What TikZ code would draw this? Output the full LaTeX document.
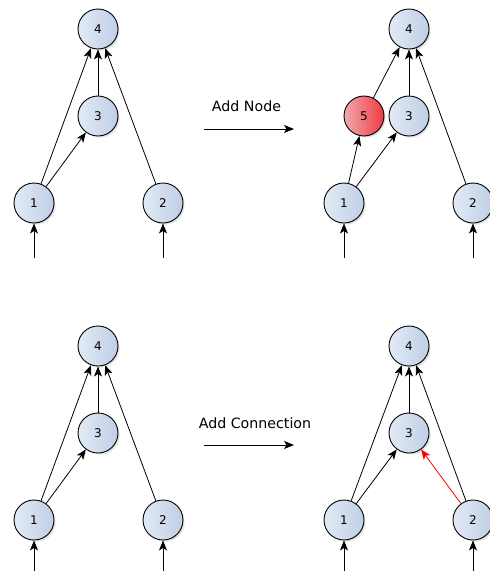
\documentclass[tikz,border=0pt]{standalone}
\usepackage{fontspec}
\setmainfont{DejaVu Sans}
\usetikzlibrary{arrows.meta,shadows}
\definecolor{nodeA}{HTML}{E2EAF5}
\definecolor{nodeB}{HTML}{BFCFE6}
\definecolor{redA}{HTML}{F2A9B0}
\definecolor{redB}{HTML}{F03A40}
\tikzset{
  neuron/.style={circle, draw=black, line width=0.9pt, minimum size=40pt, inner sep=0pt,
    left color=nodeA, right color=nodeB, font=\fontsize{12}{12}\selectfont,
    circular drop shadow={shadow xshift=2pt, shadow yshift=-2pt, opacity=0.35, shadow scale=1.0}},
  newneuron/.style={neuron, left color=redA, right color=redB},
  conn/.style={line width=0.8pt, -{Stealth[length=10pt, width=8pt, inset=2.5pt]}},
  newconn/.style={conn, draw=red},
  opconn/.style={line width=0.8pt, -{Stealth[length=10pt, width=8pt, inset=2.5pt]}},
  optext/.style={font=\fontsize{14.2}{14.2}\selectfont}
}
\begin{document}
\begin{tikzpicture}[x=1pt, y=-1pt]
\useasboundingbox (0,0) rectangle (490,571);
% ---------- Panel A (top-left) ----------
\node[neuron] (a4) at (98,29) {4};
\node[neuron] (a3) at (98,116) {3};
\node[neuron] (a1) at (34,203) {1};
\node[neuron] (a2) at (163,203) {2};
\coordinate (ai1) at (34,258);
\coordinate (ai2) at (163,258);
\draw[conn] (a1) -- (a4);
\draw[conn] (a1) -- (a3);
\draw[conn] (a3) -- (a4);
\draw[conn] (a2) -- (a4);
\draw[conn] (ai1) -- (a1);
\draw[conn] (ai2) -- (a2);
% ---------- Operation: Add Node ----------
\node[optext] (addnode) at (246.5,106.5) {Add Node};
\coordinate (na) at (204,129);
\coordinate (nb) at (294,129);
\draw[opconn] (na) -- (nb);
% ---------- Panel B (top-right) ----------
\node[neuron] (b4) at (409,29) {4};
\node[newneuron] (b5) at (364,116) {5};
\node[neuron] (b3) at (409,116) {3};
\node[neuron] (b1) at (344,203) {1};
\node[neuron] (b2) at (473,203) {2};
\coordinate (bi1) at (344,258);
\coordinate (bi2) at (473,258);
\draw[conn] (b5) -- (b4);
\draw[conn] (b1) -- (b5);
\draw[conn] (b1) -- (b3);
\draw[conn] (b3) -- (b4);
\draw[conn] (b2) -- (b4);
\draw[conn] (bi1) -- (b1);
\draw[conn] (bi2) -- (b2);
% ---------- Panel C (bottom-left) ----------
\node[neuron] (c4) at (98,346) {4};
\node[neuron] (c3) at (98,433) {3};
\node[neuron] (c1) at (34,520) {1};
\node[neuron] (c2) at (163,520) {2};
\coordinate (ci1) at (34,575);
\coordinate (ci2) at (163,575);
\draw[conn] (c1) -- (c4);
\draw[conn] (c1) -- (c3);
\draw[conn] (c3) -- (c4);
\draw[conn] (c2) -- (c4);
\draw[conn] (ci1) -- (c1);
\draw[conn] (ci2) -- (c2);
% ---------- Operation: Add Connection ----------
\node[optext] (addconn) at (255,423.5) {Add Connection};
\coordinate (ca) at (204,445);
\coordinate (cb) at (294,445);
\draw[opconn] (ca) -- (cb);
% ---------- Panel D (bottom-right) ----------
\node[neuron] (d4) at (409,346) {4};
\node[neuron] (d3) at (409,433) {3};
\node[neuron] (d1) at (344,520) {1};
\node[neuron] (d2) at (473,520) {2};
\coordinate (di1) at (344,575);
\coordinate (di2) at (473,575);
\draw[conn] (d1) -- (d4);
\draw[conn] (d1) -- (d3);
\draw[conn] (d3) -- (d4);
\draw[conn] (d2) -- (d4);
\draw[newconn] (d2) -- (d3);
\draw[conn] (di1) -- (d1);
\draw[conn] (di2) -- (d2);
\end{tikzpicture}
\end{document}
